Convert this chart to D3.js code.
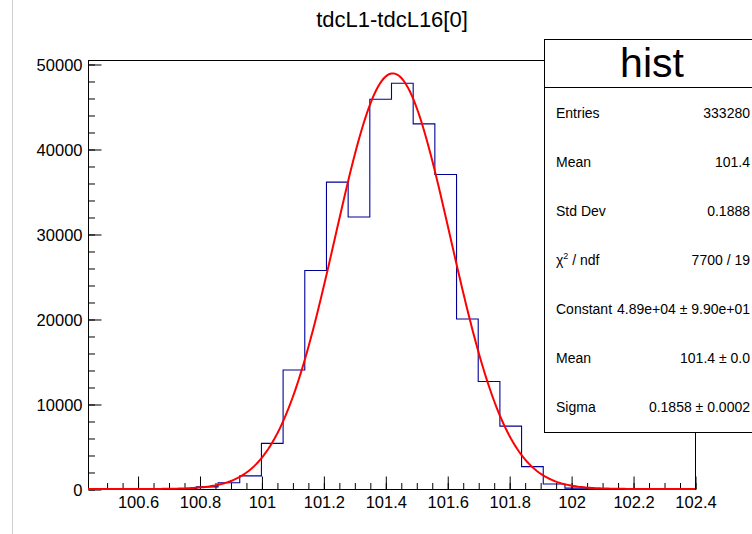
<!DOCTYPE html>
<html>
<head>
<meta charset="utf-8">
<script src="https://cdn.jsdelivr.net/npm/d3@7"></script>
<style>
  html, body { margin: 0; padding: 0; background: #fff; }
  svg { display: block; font-family: "Liberation Sans", Arial, Helvetica, sans-serif; }
</style>
</head>
<body>
<svg id="chart" width="752" height="534"></svg>
<script>
// Histogram tdcL1-tdcL16[0]: 28 bins of width 0.07 starting at 100.44
const binStart = 100.44;
const binWidth = 0.07;
const binCounts = [
  0, 0, 0, 0, 40, 250, 740, 1550,
  5370, 14000, 25700, 36100, 32000, 45850, 47730, 42950,
  37000, 20000, 12650, 7400, 2630, 580, 100, 10,
  0, 0, 0, 0
];

// Gaussian fit parameters
const fitConstant = 48900;
const fitMean = 101.424;
const fitSigma = 0.1858;

// Axis ticks
const xTickValues = [100.6, 100.8, 101, 101.2, 101.4, 101.6, 101.8, 102, 102.2, 102.4];
const xTickLabels = ["100.6", "100.8", "101", "101.2", "101.4", "101.6", "101.8", "102", "102.2", "102.4"];
const yTickValues = [0, 10000, 20000, 30000, 40000, 50000];
const yTickLabels = ["0", "10000", "20000", "30000", "40000", "50000"];

// Statistics box rows
const statLabels = ["Entries", "Mean", "Std Dev", "χ2ndf", "Constant", "Mean", "Sigma"];
const statValues = ["333280", "101.4", "0.1888", "7700 / 19", "4.89e+04 ± 9.90e+01", "101.4 ± 0.0", "0.1858 ± 0.0002"];

const titleText = "tdcL1-tdcL16[0]";
const boxTitle = "hist";

const svg = d3.select("#chart");
const W = 752, H = 534;
const frame = { left: 88, right: 695, top: 60, bottom: 489 };

const xMin = binStart, xMax = binStart + binWidth * binCounts.length;
const x = d3.scaleLinear().domain([xMin, xMax]).range([frame.left, frame.right]);
const y = d3.scaleLinear().domain([0, 50470]).range([frame.bottom, frame.top]);

// thin grey border line near the left edge of the canvas
svg.append("line")
  .attr("x1", 12.5).attr("x2", 12.5).attr("y1", 0).attr("y2", H)
  .attr("stroke", "#cfcfcf").attr("stroke-width", 1);

// title
svg.append("text")
  .attr("x", 392).attr("y", 27)
  .attr("text-anchor", "middle")
  .attr("font-size", 22)
  .attr("fill", "#000")
  .text(titleText);

// frame
svg.append("rect")
  .attr("x", frame.left + 0.5).attr("y", frame.top + 0.5)
  .attr("width", frame.right - frame.left).attr("height", frame.bottom - frame.top)
  .attr("fill", "none").attr("stroke", "#000").attr("stroke-width", 1);

// x axis: major ticks with labels, minor ticks every 0.05
const xMinor = d3.range(Math.round(xMin / 0.05) + 1, Math.round(xMax / 0.05) + 1).map(k => +(k * 0.05).toFixed(2));
const gxMinor = svg.append("g").attr("transform", `translate(0.5,${frame.bottom + 0.5})`)
  .call(d3.axisBottom(x).tickValues(xMinor).tickSizeInner(-6.5).tickSizeOuter(0).tickFormat(""));
gxMinor.select(".domain").remove();

const gx = svg.append("g").attr("transform", `translate(0.5,${frame.bottom + 0.5})`)
  .call(d3.axisBottom(x).tickValues(xTickValues).tickSizeInner(-13).tickSizeOuter(0)
    .tickFormat((d, i) => xTickLabels[i]));
gx.select(".domain").remove();
gx.selectAll("text")
  .attr("y", 18).attr("dy", 0)
  .attr("font-size", 16.5)
  .attr("font-family", "Liberation Sans, Arial, Helvetica, sans-serif")
  .attr("fill", "#000");
svg.selectAll(".tick line").attr("stroke", "#000");

// y axis: major every 10000, minor every 2000
const yMinor = d3.range(0, 50001, 2000);
const gyMinor = svg.append("g").attr("transform", `translate(${frame.left + 0.5},0.5)`)
  .call(d3.axisLeft(y).tickValues(yMinor).tickSizeInner(-6.5).tickSizeOuter(0).tickFormat(""));
gyMinor.select(".domain").remove();

const gy = svg.append("g").attr("transform", `translate(${frame.left + 0.5},0.5)`)
  .call(d3.axisLeft(y).tickValues(yTickValues).tickSizeInner(-13).tickSizeOuter(0)
    .tickFormat((d, i) => yTickLabels[i]));
gy.select(".domain").remove();
gy.selectAll("text")
  .attr("x", -6).attr("dy", "0.36em")
  .attr("font-size", 16.5)
  .attr("font-family", "Liberation Sans, Arial, Helvetica, sans-serif")
  .attr("fill", "#000");
svg.selectAll(".tick line").attr("stroke", "#000");

// histogram outline as a step line
const stepPts = [[xMin, 0]];
binCounts.forEach((c, i) => {
  const lo = binStart + i * binWidth, hi = lo + binWidth;
  stepPts.push([lo, c], [hi, c]);
});
stepPts.push([xMax, 0]);
const histLine = d3.line().x(d => x(d[0])).y(d => y(d[1]));
svg.append("path")
  .attr("d", histLine(stepPts))
  .attr("fill", "none")
  .attr("stroke", "#000099")
  .attr("stroke-width", 1.1);

// Gaussian fit curve evaluated across the axis range
const gauss = v => fitConstant * Math.exp(-0.5 * Math.pow((v - fitMean) / fitSigma, 2));
const fitPts = d3.range(0, 301).map(i => {
  const v = xMin + (xMax - xMin) * i / 300;
  return [v, gauss(v)];
});
svg.append("path")
  .attr("d", d3.line().x(d => x(d[0])).y(d => y(d[1])).curve(d3.curveLinear)(fitPts))
  .attr("fill", "none")
  .attr("stroke", "#ff0000")
  .attr("stroke-width", 2);

// statistics box
const box = { left: 544, top: 39, bottom: 432, right: 770 };
svg.append("rect")
  .attr("x", box.left + 0.5).attr("y", box.top + 0.5)
  .attr("width", box.right - box.left).attr("height", box.bottom - box.top)
  .attr("fill", "#fff").attr("stroke", "#000").attr("stroke-width", 1);
svg.append("line")
  .attr("x1", box.left).attr("x2", box.right)
  .attr("y1", 87.5).attr("y2", 87.5)
  .attr("stroke", "#000").attr("stroke-width", 1);
svg.append("text")
  .attr("x", 652).attr("y", 77)
  .attr("text-anchor", "middle")
  .attr("font-size", 41)
  .attr("fill", "#000")
  .text(boxTitle);

const rowY = d3.scaleLinear().domain([0, statLabels.length - 1]).range([118, 412]);
statLabels.forEach((lab, i) => {
  const t = svg.append("text")
    .attr("x", 556).attr("y", rowY(i))
    .attr("font-size", 14)
    .attr("fill", "#000");
  if (lab === "χ2ndf") {
    t.append("tspan").text("χ");
    t.append("tspan").attr("font-size", 9).attr("dy", -6).text("2");
    t.append("tspan").attr("dy", 6).text(" / ndf");
  } else {
    t.text(lab);
  }
  svg.append("text")
    .attr("x", 750).attr("y", rowY(i))
    .attr("text-anchor", "end")
    .attr("font-size", 14)
    .attr("fill", "#000")
    .text(statValues[i]);
});
</script>
</body>
</html>
